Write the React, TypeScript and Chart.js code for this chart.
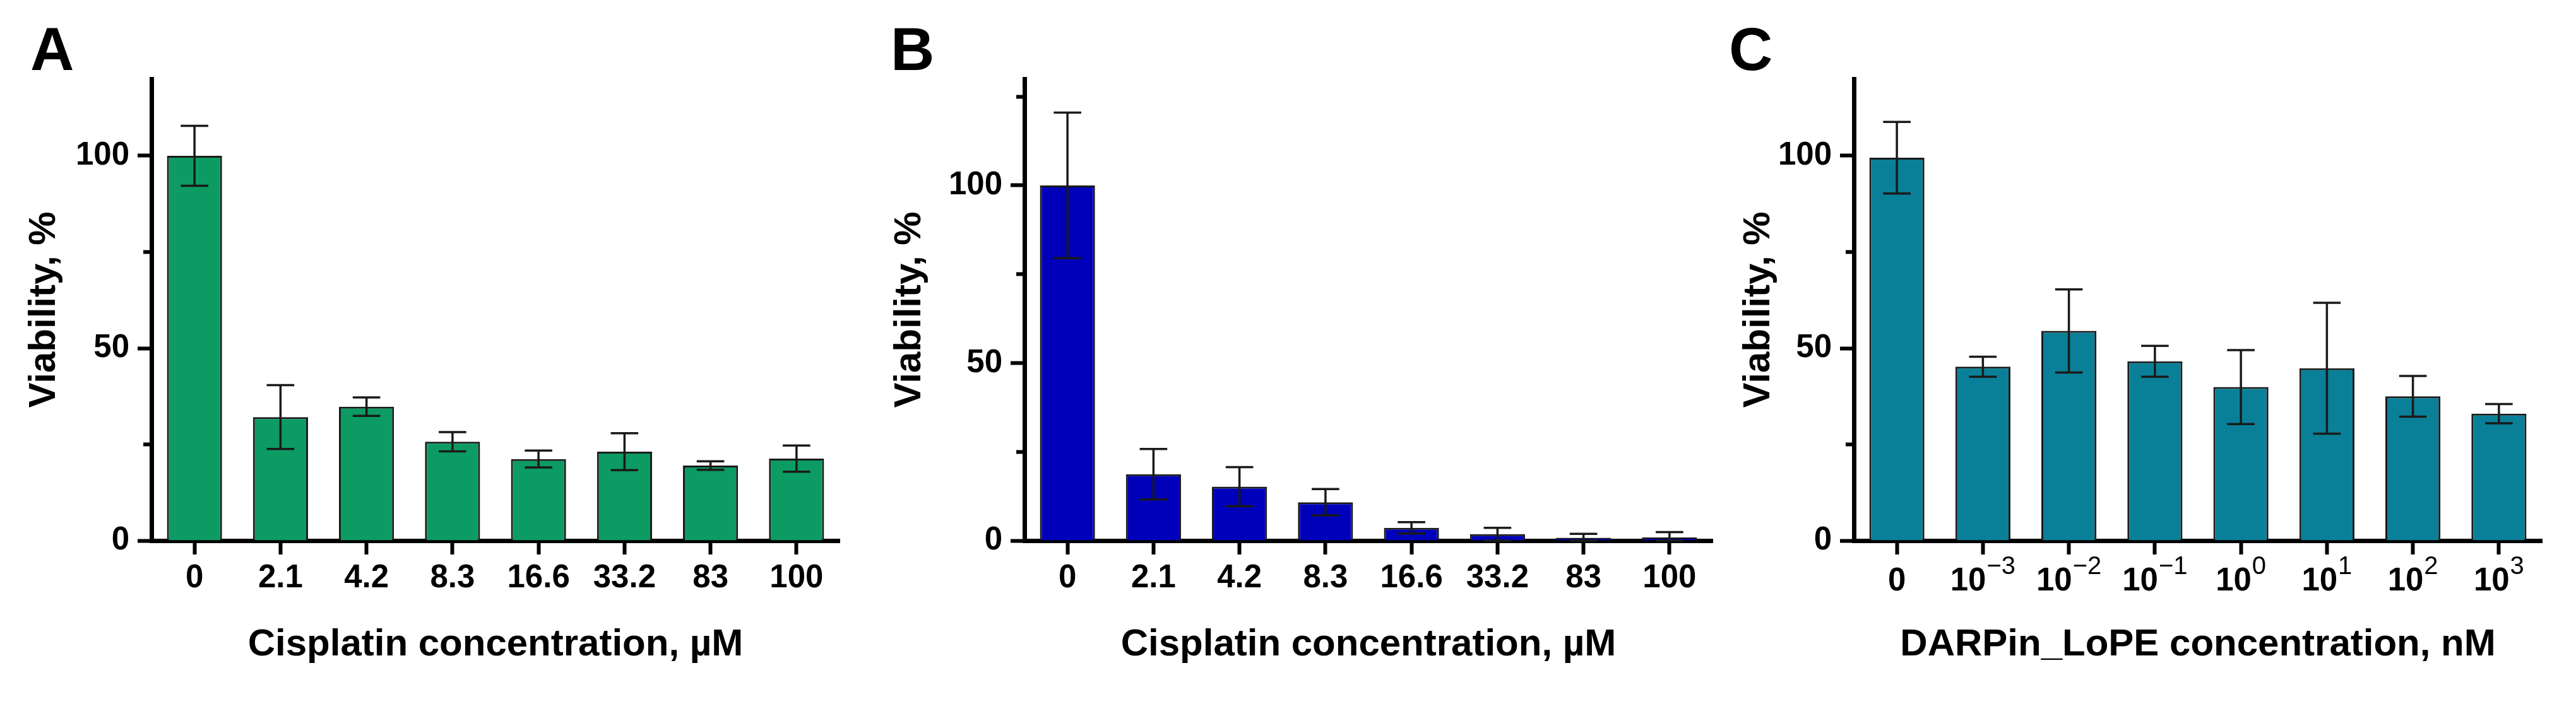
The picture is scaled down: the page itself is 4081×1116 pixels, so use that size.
import React, { useEffect, useRef } from 'react';
import { Chart, registerables } from 'chart.js';

Chart.register(...registerables);

// ---------- DATA ----------
const CISPLATIN_LABELS = ['0', '2.1', '4.2', '8.3', '16.6', '33.2', '83', '100'];
const DARPIN_BASES = ['0', '10', '10', '10', '10', '10', '10', '10'];
const DARPIN_EXPONENTS = ['', '−3', '−2', '−1', '0', '1', '2', '3'];

const A_VALUES = [100, 32.1, 34.8, 25.7, 21.2, 23.1, 19.5, 21.3];
const A_ERRORS = [7.8, 8.3, 2.4, 2.5, 2.2, 4.8, 1.1, 3.4];

const B_VALUES = [100, 18.7, 15.2, 10.8, 3.6, 1.8, 0.8, 0.9];
const B_ERRORS = [20.5, 7.1, 5.5, 3.7, 1.6, 1.8, 1.1, 1.5];

const C_VALUES = [99.5, 45.2, 54.5, 46.6, 39.9, 44.8, 37.5, 33.0];
const C_ERRORS = [9.3, 2.6, 10.8, 4.0, 9.6, 17.0, 5.3, 2.5];

const MAJOR_TICKS = [0, 50, 100];
const MINOR_TICKS_AC = [25, 75];
const MINOR_TICKS_B = [25, 75, 125];

const Y_TITLE = 'Viability, %';
const X_TITLE_CIS = 'Cisplatin concentration, µM';
const X_TITLE_DARPIN = 'DARPin_LoPE concentration, nM';

// ---------- STYLE ----------
const FONT = "'Liberation Sans', Arial, Helvetica, sans-serif";
const H = 1116;

const errorBarPlugin = {
  id: 'errorBars',
  afterDatasetsDraw(chart: any, _args: any, opts: any) {
    const { ctx } = chart;
    const meta = chart.getDatasetMeta(0);
    const yScale = chart.scales.y;
    const values = chart.data.datasets[0].data as number[];
    ctx.save();
    ctx.strokeStyle = opts.color;
    ctx.lineWidth = opts.lineWidth;
    ctx.lineCap = 'butt';
    meta.data.forEach((bar: any, i: number) => {
      const v = values[i];
      const e = opts.errors[i];
      const x = bar.x;
      const half = (bar.width * opts.capFraction) / 2;
      const yt = yScale.getPixelForValue(v + e);
      const yb = yScale.getPixelForValue(Math.max(v - e, 0));
      ctx.beginPath();
      ctx.moveTo(x, yt);
      ctx.lineTo(x, yb);
      ctx.moveTo(x - half, yt);
      ctx.lineTo(x + half, yt);
      ctx.moveTo(x - half, yb);
      ctx.lineTo(x + half, yb);
      ctx.stroke();
    });
    ctx.restore();
  },
};

const panelLetterPlugin = {
  id: 'panelLetter',
  afterDraw(chart: any, _args: any, opts: any) {
    const { ctx } = chart;
    ctx.save();
    ctx.fillStyle = '#000';
    ctx.font = `bold ${opts.size}px ${FONT}`;
    ctx.textAlign = 'left';
    ctx.textBaseline = 'alphabetic';
    ctx.fillText(opts.text, opts.x, opts.y);
    ctx.restore();
  },
};

const superTicksPlugin = {
  id: 'superTicks',
  afterDraw(chart: any, _args: any, opts: any) {
    if (!opts || !opts.bases) return;
    const { ctx } = chart;
    const scale = chart.scales.x;
    const baseY = scale.top + opts.baselineOffset;
    const supY = baseY - opts.raise;
    ctx.save();
    ctx.fillStyle = '#000';
    ctx.textAlign = 'left';
    ctx.textBaseline = 'alphabetic';
    opts.bases.forEach((b: string, i: number) => {
      const e: string = opts.exponents[i];
      ctx.font = `bold ${opts.baseSize}px ${FONT}`;
      const wb = ctx.measureText(b).width;
      ctx.font = `${opts.expSize}px ${FONT}`;
      const we = e ? ctx.measureText(e).width + opts.gap : 0;
      const x0 = scale.getPixelForTick(i) - (wb + we) / 2;
      ctx.font = `bold ${opts.baseSize}px ${FONT}`;
      ctx.fillText(b, x0, baseY);
      if (e) {
        ctx.font = `${opts.expSize}px ${FONT}`;
        ctx.fillText(e, x0 + wb + opts.gap, supY);
      }
    });
    ctx.restore();
  },
};

type PanelCfg = {
  left: number;
  width: number;
  yWidth: number;
  plotWidth: number;
  yMax: number;
  minor: number[];
  values: number[];
  errors: number[];
  labels: string[];
  color: string;
  xTitle: string;
  yTitlePad: number;
  letter: string;
  letterX: number;
  superscript: boolean;
};

function Panel({ cfg }: { cfg: PanelCfg }) {
  const ref = useRef<HTMLCanvasElement>(null);
  useEffect(() => {
    const canvas = ref.current!;
    const padRight = cfg.width - cfg.yWidth - cfg.plotWidth;
    const tickFont = { family: FONT, size: 51, weight: 'bold' as const };
    const titleFont = { family: FONT, size: 60, weight: 'bold' as const };
    const chart = new Chart(canvas, {
      type: 'bar',
      data: {
        labels: cfg.labels,
        datasets: [
          {
            data: cfg.values,
            backgroundColor: cfg.color,
            borderColor: '#1a1a1a',
            borderWidth: 3,
            borderSkipped: 'start',
            barPercentage: 0.8,
            categoryPercentage: 0.8,
            xAxisID: 'x',
            yAxisID: 'y',
          },
        ],
      },
      options: {
        responsive: false,
        animation: false,
        devicePixelRatio: 1,
        layout: { padding: { top: 125, right: padRight, bottom: 0, left: 0 } },
        plugins: {
          legend: { display: false },
          tooltip: { enabled: false },
          title: { display: false },
          errorBars: { errors: cfg.errors, color: '#1a1a1a', lineWidth: 3.5, capFraction: 0.5 },
          panelLetter: { text: cfg.letter, x: cfg.letterX, y: 111, size: 96 },
          superTicks: cfg.superscript
            ? {
                bases: DARPIN_BASES,
                exponents: DARPIN_EXPONENTS,
                baseSize: 51,
                expSize: 40,
                baselineOffset: 79,
                raise: 26,
                gap: 1,
              }
            : {},
        } as any,
        scales: {
          x: {
            type: 'category',
            position: 'bottom',
            offset: true,
            grid: {
              display: true,
              drawOnChartArea: false,
              drawTicks: true,
              tickLength: 22,
              tickWidth: 6,
              tickColor: '#000',
              offset: false,
            },
            border: { display: true, width: 7, color: '#000' },
            ticks: {
              display: !cfg.superscript,
              color: '#000',
              font: tickFont,
              padding: 7,
              autoSkip: false,
              maxRotation: 0,
              minRotation: 0,
            },
            title: {
              display: true,
              text: cfg.xTitle,
              color: '#000',
              font: titleFont,
              padding: { top: 0, bottom: 58 },
            },
            afterFit: (s: any) => {
              s.height = H - 857;
            },
          },
          y: {
            type: 'linear',
            position: 'left',
            weight: 1,
            min: 0,
            max: cfg.yMax,
            grid: {
              display: true,
              drawOnChartArea: false,
              drawTicks: true,
              tickLength: 22,
              tickWidth: 6,
              tickColor: '#000',
            },
            border: { display: true, width: 7, color: '#000' },
            ticks: {
              color: '#000',
              font: tickFont,
              padding: 13,
              callback: (v: any) => String(v),
            },
            afterBuildTicks: (s: any) => {
              s.ticks = MAJOR_TICKS.map((v) => ({ value: v }));
            },
            title: {
              display: true,
              text: Y_TITLE,
              color: '#000',
              font: titleFont,
              padding: { top: cfg.yTitlePad, bottom: 0 },
            },
            afterFit: (s: any) => {
              s.width = cfg.yWidth;
            },
          },
          yMinor: {
            type: 'linear',
            axis: 'y',
            position: 'left',
            weight: 0,
            min: 0,
            max: cfg.yMax,
            grid: {
              display: true,
              drawOnChartArea: false,
              drawTicks: true,
              tickLength: 13,
              tickWidth: 6,
              tickColor: '#000',
            },
            border: { display: false },
            ticks: { display: false },
            afterBuildTicks: (s: any) => {
              s.ticks = cfg.minor.map((v) => ({ value: v }));
            },
            afterFit: (s: any) => {
              s.width = 0;
            },
          },
        } as any,
      },
      plugins: cfg.superscript
        ? [errorBarPlugin, panelLetterPlugin, superTicksPlugin]
        : [errorBarPlugin, panelLetterPlugin],
    });
    return () => chart.destroy();
  }, [cfg]);
  return (
    <canvas
      ref={ref}
      width={cfg.width}
      height={H}
      style={{ position: 'absolute', left: cfg.left, top: 0, width: cfg.width, height: H }}
    />
  );
}

const PANELS: PanelCfg[] = [
  {
    left: 0,
    width: 1360,
    yWidth: 240,
    plotWidth: 1090,
    yMax: 120,
    minor: MINOR_TICKS_AC,
    values: A_VALUES,
    errors: A_ERRORS,
    labels: CISPLATIN_LABELS,
    color: '#0b9b63',
    xTitle: X_TITLE_CIS,
    yTitlePad: 34,
    letter: 'A',
    letterX: 48,
    superscript: false,
  },
  {
    left: 1380,
    width: 1360,
    yWidth: 243,
    plotWidth: 1090,
    yMax: 130,
    minor: MINOR_TICKS_B,
    values: B_VALUES,
    errors: B_ERRORS,
    labels: CISPLATIN_LABELS,
    color: '#0000bb',
    xTitle: X_TITLE_CIS,
    yTitlePad: 25,
    letter: 'B',
    letterX: 31,
    superscript: false,
  },
  {
    left: 2700,
    width: 1381,
    yWidth: 237,
    plotWidth: 1090,
    yMax: 120,
    minor: MINOR_TICKS_AC,
    values: C_VALUES,
    errors: C_ERRORS,
    labels: DARPIN_BASES.map((b, i) => (DARPIN_EXPONENTS[i] ? `${b}^${DARPIN_EXPONENTS[i]}` : b)),
    color: '#0a8098',
    xTitle: X_TITLE_DARPIN,
    yTitlePad: 50,
    letter: 'C',
    letterX: 39,
    superscript: true,
  },
];

export default function App() {
  return (
    <div
      style={{
        position: 'fixed',
        left: 0,
        top: 0,
        width: 4081,
        height: H,
        background: '#fff',
        overflow: 'hidden',
      }}
    >
      {PANELS.map((p) => (
        <Panel key={p.letter} cfg={p} />
      ))}
    </div>
  );
}
